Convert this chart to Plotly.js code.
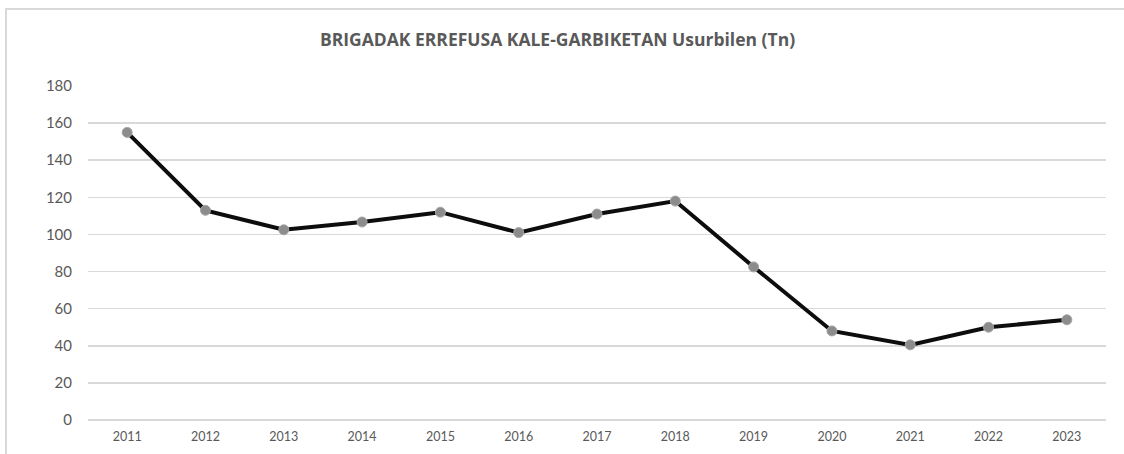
<!DOCTYPE html>
<html>
<head>
<meta charset="utf-8">
<script src="https://cdn.plot.ly/plotly-3.0.1.min.js"></script>
<style>
html,body{margin:0;padding:0;background:#fff;}
#chart{width:1124px;height:454px;position:absolute;left:0;top:0;}
#frame{position:absolute;left:5px;top:8px;width:1130px;height:460px;border-top:2px solid #d9d9d9;border-left:2px solid #d9d9d9;pointer-events:none;}
</style>
</head>
<body>
<div id="chart"></div>
<div id="frame"></div>
<script>
const years = ['2011','2012','2013','2014','2015','2016','2017','2018','2019','2020','2021','2022','2023'];
const tonnes = [155, 113, 102.5, 106.7, 112, 101, 111, 118, 82.5, 48, 40.5, 50, 54];
const yTicks = [0,20,40,60,80,100,120,140,160,180];
const chartTitle = 'BRIGADAK ERREFUSA KALE-GARBIKETAN Usurbilen (Tn)';

Plotly.newPlot('chart', [{
  x: years, y: tonnes, type: 'scatter', mode: 'lines+markers',
  line: {color: '#0d0d0d', width: 4},
  marker: {color: '#8c8c8c', size: 10, line: {color: '#a6a6a6', width: 1}},
  hoverinfo: 'x+y'
}], {
  width: 1124, height: 454,
  margin: {l: 88, r: 18, t: 86, b: 34},
  paper_bgcolor: '#fff', plot_bgcolor: '#fff',
  font: {family: 'Lato, "Open Sans", sans-serif', color: '#595959'},
  title: {text: '<b>' + chartTitle + '</b>', x: 0.496, xanchor: 'center', y: 0.912, yanchor: 'middle',
          font: {size: 17.5, color: '#595959', family: '"Open Sans", Lato, sans-serif'}},
  xaxis: {type: 'category', range: [-0.5, 12.5], showgrid: false, zeroline: false, showline: false, ticks: '',
          tickfont: {size: 12.5, color: '#595959'}, ticklabelstandoff: 7},
  yaxis: {range: [0, 180], tickvals: yTicks, showgrid: true, gridcolor: '#d9d9d9', gridwidth: 1.5,
          zeroline: true, zerolinecolor: '#d9d9d9', zerolinewidth: 1.5, showline: false, ticks: '',
          tickfont: {size: 15, color: '#595959'}, ticklabelstandoff: 15},
  showlegend: false
}, {displayModeBar: false, staticPlot: true});
</script>
</body>
</html>
